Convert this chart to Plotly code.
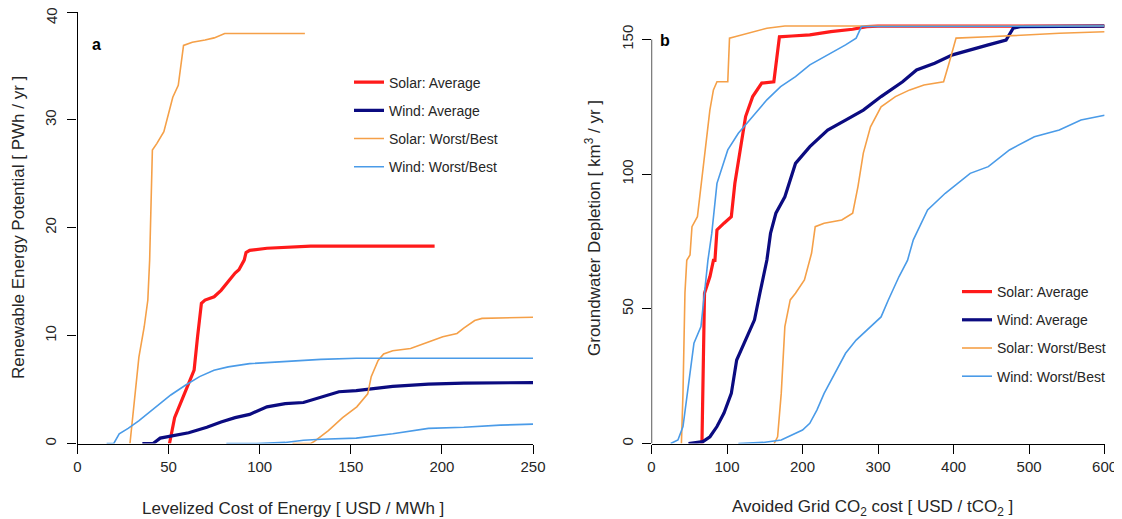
import plotly.graph_objects as go

# ---------------- Panel a data (LCOE, PWh/yr) ----------------
solar_avg_a_x = [50.5, 53.3, 57.2, 61.1, 64, 65.9, 68, 70, 75, 78.8, 82.7, 86.5, 88.6, 91.5, 92.5, 94.5, 104, 118, 128, 196]
solar_avg_a_y = [0, 2.4, 4.0, 5.6, 6.8, 9.9, 13.0, 13.3, 13.6, 14.2, 15.0, 15.8, 16.1, 17.0, 17.7, 17.9, 18.1, 18.2, 18.3, 18.3]
wind_avg_a_x = [35.6, 41.5, 45.4, 51.3, 61, 71, 78.8, 86.5, 94.5, 104, 114, 124, 133.7, 143.5, 153, 173, 192.6, 212, 250]
wind_avg_a_y = [0, 0, 0.5, 0.7, 1.0, 1.5, 2.0, 2.4, 2.7, 3.4, 3.7, 3.8, 4.3, 4.8, 4.9, 5.3, 5.5, 5.6, 5.65]
solar_best_a_x = [28.8, 33.7, 36.6, 38.6, 39.6, 40.5, 41.1, 43.5, 47.4, 52.3, 55.3, 58.2, 63, 70, 75, 80.8, 124.8]
solar_best_a_y = [0, 8.0, 10.8, 13.3, 17, 24.4, 27.2, 27.8, 28.9, 32.1, 33.2, 36.9, 37.2, 37.4, 37.6, 38.0, 38.0]
solar_worst_a_x = [118, 128, 130, 137.7, 145.5, 153.3, 159.3, 161.2, 165, 168, 173, 182.8, 192.6, 200.5, 208.3, 212, 218, 222, 250]
solar_worst_a_y = [0, 0, 0.2, 1.2, 2.4, 3.4, 4.6, 6.2, 7.7, 8.3, 8.6, 8.8, 9.4, 9.9, 10.2, 10.7, 11.4, 11.6, 11.7]
wind_best_a_x = [16, 19.9, 22.9, 27.8, 33.6, 39.6, 45.4, 51.2, 59.2, 67, 74.9, 82.7, 94.5, 114, 133.6, 153, 250]
wind_best_a_y = [0, 0, 0.9, 1.4, 2.1, 2.9, 3.7, 4.5, 5.4, 6.2, 6.8, 7.1, 7.4, 7.6, 7.8, 7.9, 7.9]
wind_worst_a_x = [81.7, 98.5, 114, 124, 133.7, 153, 173, 192.6, 212, 232, 250]
wind_worst_a_y = [0, 0, 0.1, 0.3, 0.4, 0.5, 0.9, 1.4, 1.5, 1.7, 1.8]

# ---------------- Panel b data (avoided CO2 cost, km3/yr) ----------------
solar_avg_b_x = [66.8, 68, 69, 70.2, 77.4, 82, 84, 86.7, 96, 105.7, 110.4, 117.6, 124.6, 134, 146, 162, 169.4, 186, 209.6, 237.5, 266.4, 285, 300, 600]
solar_avg_b_y = [0, 20, 40, 55.8, 62, 68, 68, 79.3, 81.8, 84.2, 96.6, 109, 121.4, 128.8, 133.8, 134.3, 151, 151.3, 151.7, 152.9, 153.8, 154.8, 155, 155]
wind_avg_b_x = [49, 68, 77.4, 86.7, 96, 105.7, 112.8, 124.6, 136.4, 143.5, 150.6, 152.8, 157.6, 164.7, 176.6, 190.7, 209.7, 233.3, 257, 280.5, 304, 332.5, 351, 375, 398.7, 422, 446, 469.5, 479, 488, 600]
wind_avg_b_y = [0, 0.7, 2.5, 6.3, 11.3, 18.6, 31, 38.4, 45.9, 55.8, 64.4, 68.1, 78, 85.5, 91.6, 104, 110.2, 116.4, 120.1, 123.8, 128.8, 134.3, 138.7, 141.2, 144.3, 146, 148, 149.8, 154.2, 154.8, 155]
solar_best_b_x = [39.6, 41.7, 44.3, 46.7, 51, 53.6, 60.8, 65.5, 72, 77.3, 82, 86.7, 101, 103.3, 110.4, 129, 152.8, 176.6, 600]
solar_best_b_y = [0, 18.7, 55.9, 68, 70, 80.5, 84.2, 95.4, 112.7, 123.8, 131.3, 134.3, 134.3, 150.5, 151, 152.3, 154.2, 155, 155]
solar_worst_b_x = [162.4, 167, 171.8, 176.6, 183.7, 190.7, 202.5, 209.7, 212, 216.8, 228.6, 252, 266.4, 273.4, 280.5, 290, 304, 323, 342, 360.8, 386.8, 394, 403.3, 446, 492.8, 540, 600]
solar_worst_b_y = [0, 2.5, 18.6, 43.4, 53.3, 55.8, 60.7, 68, 70.7, 80.5, 81.8, 83, 85.5, 95.4, 107.8, 117.6, 125, 128.8, 131.3, 133.1, 134.3, 141.2, 150.5, 151, 151.7, 152.3, 152.9]
wind_best_b_x = [25.4, 35, 41.7, 49, 56.2, 65.5, 70.2, 74.7, 79.8, 86.7, 101, 115, 134, 152.8, 171, 190.7, 209.7, 233.5, 257, 271, 278, 600]
wind_best_b_y = [0, 1.3, 6.3, 21.1, 37.2, 43.4, 55.8, 68, 78, 96.6, 109, 115.2, 121.4, 127.6, 132.5, 136.2, 140.6, 144.3, 148, 150.5, 154.8, 155]
wind_worst_b_x = [115, 148, 171.8, 186, 200, 209.6, 219, 228.6, 242.7, 257, 271, 290, 304, 313.6, 327.8, 339, 346.7, 365.6, 389, 422, 446, 474, 507, 540, 568.7, 600]
wind_worst_b_y = [0, 0.4, 1.3, 3.1, 5, 7.5, 12.4, 18.6, 26, 33.5, 38.4, 43.4, 47, 53.3, 62, 68, 75.6, 86.7, 92.9, 100.3, 102.8, 109, 113.9, 116.4, 120.1, 121.9]

# ticks / labels
xticks_a = [0, 50, 100, 150, 200, 250]
yticks_a = [0, 10, 20, 30, 40]
ytext_a = ["0", "10", "20", "30", ""]   # the top label "40" is drawn by an overlay axis
ytop_tick_a = [40]
ytop_text_a = ["40"]
xticks_b = [0, 100, 200, 300, 400, 500, 600]
yticks_b = [0, 50, 100, 150]
series_names = ["Solar: Average", "Wind: Average", "Solar: Worst/Best", "Wind: Worst/Best"]

RED = "#FF1A1A"
NAVY = "#0B0B80"
ORANGE = "#F5A048"
LBLUE = "#4A9BE8"
FONT = "Liberation Sans, Arial, sans-serif"
TXT = "#262626"

fig = go.Figure()

def add(x, y, color, width, name, show, xa, ya, legend):
    fig.add_trace(go.Scatter(
        x=x, y=y, mode="lines", line=dict(color=color, width=width),
        name=name, showlegend=show, legendgroup=name + legend,
        xaxis=xa, yaxis=ya, legend=legend, hoverinfo="skip"))

# Panel a
add(solar_avg_a_x, solar_avg_a_y, RED, 3.2, series_names[0], True, "x", "y", "legend")
add(wind_avg_a_x, wind_avg_a_y, NAVY, 3.2, series_names[1], True, "x", "y", "legend")
add(solar_best_a_x, solar_best_a_y, ORANGE, 1.6, series_names[2], True, "x", "y", "legend")
add(solar_worst_a_x, solar_worst_a_y, ORANGE, 1.6, series_names[2], False, "x", "y", "legend")
add(wind_best_a_x, wind_best_a_y, LBLUE, 1.6, series_names[3], True, "x", "y", "legend")
add(wind_worst_a_x, wind_worst_a_y, LBLUE, 1.6, series_names[3], False, "x", "y", "legend")

# Panel b
add(solar_avg_b_x, solar_avg_b_y, RED, 3.2, series_names[0], True, "x2", "y2", "legend2")
add(wind_avg_b_x, wind_avg_b_y, NAVY, 3.2, series_names[1], True, "x2", "y2", "legend2")
add(solar_best_b_x, solar_best_b_y, ORANGE, 1.6, series_names[2], True, "x2", "y2", "legend2")
add(solar_worst_b_x, solar_worst_b_y, ORANGE, 1.6, series_names[2], False, "x2", "y2", "legend2")
add(wind_best_b_x, wind_best_b_y, LBLUE, 1.6, series_names[3], True, "x2", "y2", "legend2")
add(wind_worst_b_x, wind_worst_b_y, LBLUE, 1.6, series_names[3], False, "x2", "y2", "legend2")

# page body has an 8px margin: compensate so window pixels match the target
OFF = 8
W, H = 1122, 519
def fx(px):
    return (px - OFF) / W
def fy(py):
    return 1 - (py - OFF) / H

ydom = [fy(443.5), fy(12)]
ytop_b = 150 * (443.5 - 12) / (443.5 - 39.5)

axis_common = dict(
    showgrid=False, zeroline=False, ticks="outside", ticklen=9, tickwidth=1.2,
    tickcolor="black", linecolor="black", linewidth=1.3, automargin=False,
    ticklabeloverflow="allow",
    tickfont=dict(family=FONT, size=15, color=TXT), layer="below traces",
)

legend_common = dict(
    font=dict(family=FONT, size=14, color=TXT), bgcolor="rgba(0,0,0,0)",
    borderwidth=0, tracegroupgap=7, xanchor="left", yanchor="top",
    itemwidth=30, traceorder="grouped",
)

fig.update_layout(
    width=W, height=H, margin=dict(l=0, r=0, t=0, b=0, autoexpand=False),
    plot_bgcolor="white", paper_bgcolor="white",
    xaxis=dict(domain=[fx(77.5), fx(533)], range=[0, 250], tickvals=xticks_a,
               anchor="y", showline=True, **axis_common),
    yaxis=dict(domain=ydom, range=[0, 40], tickvals=yticks_a, ticktext=ytext_a, tickangle=-90,
               anchor="x", showline=True, ticklabelstandoff=5, **axis_common),
    yaxis3=dict(overlaying="y", anchor="x", side="left", range=[0, 40],
                tickvals=ytop_tick_a, ticktext=ytop_text_a, tickangle=-90,
                showline=False, ticklabelstandoff=5, ticklabelshift=6, **axis_common),
    xaxis2=dict(domain=[fx(651.5), fx(1104.6)], range=[0, 600], tickvals=xticks_b,
                anchor="y2", showline=True, **axis_common),
    yaxis2=dict(domain=ydom, range=[0, ytop_b], tickvals=yticks_b, tickangle=-90,
                anchor="x2", showline=False, ticklabelstandoff=3, **axis_common),
    legend=dict(x=fx(349), y=fy(66.5), **legend_common),
    legend2=dict(x=fx(957), y=fy(276), **legend_common),
    showlegend=True,
)

# invisible helper trace so the overlay axis is drawn
fig.add_trace(go.Scatter(x=[None], y=[None], xaxis="x", yaxis="y3", showlegend=False,
                         hoverinfo="skip", mode="lines"))

# y axis line of panel b only spans 0..150
fig.add_shape(type="line", xref="x2", yref="y2", x0=0, x1=0, y0=0, y1=150,
              line=dict(color="black", width=1.3), layer="below")

ann = []
ann.append(dict(text="Levelized Cost of Energy [ USD / MWh ]", x=fx(292.5), y=fy(508),
                xref="paper", yref="paper", showarrow=False, xanchor="center", yanchor="middle",
                font=dict(family=FONT, size=17, color=TXT)))
ann.append(dict(text="Avoided Grid CO<sub>2</sub> cost [ USD / tCO<sub>2</sub> ]", x=fx(872), y=fy(508),
                xref="paper", yref="paper", showarrow=False, xanchor="center", yanchor="middle",
                font=dict(family=FONT, size=17, color=TXT)))
ann.append(dict(text="Renewable Energy Potential [ PWh / yr ]", x=fx(18), y=fy(228),
                xref="paper", yref="paper", showarrow=False, xanchor="center", yanchor="middle",
                textangle=-90, font=dict(family=FONT, size=17, color=TXT)))
ann.append(dict(text="Groundwater Depletion [ km<sup>3</sup> / yr ]", x=fx(593), y=fy(228),
                xref="paper", yref="paper", showarrow=False, xanchor="center", yanchor="middle",
                textangle=-90, font=dict(family=FONT, size=17, color=TXT)))
ann.append(dict(text="<b>a</b>", x=fx(96), y=fy(45), xref="paper", yref="paper",
                showarrow=False, xanchor="center", yanchor="middle",
                font=dict(family=FONT, size=16, color="black")))
ann.append(dict(text="<b>b</b>", x=fx(665), y=fy(40), xref="paper", yref="paper",
                showarrow=False, xanchor="center", yanchor="middle",
                font=dict(family=FONT, size=16, color="black")))
fig.update_layout(annotations=ann)

fig.write_html("out.html")
